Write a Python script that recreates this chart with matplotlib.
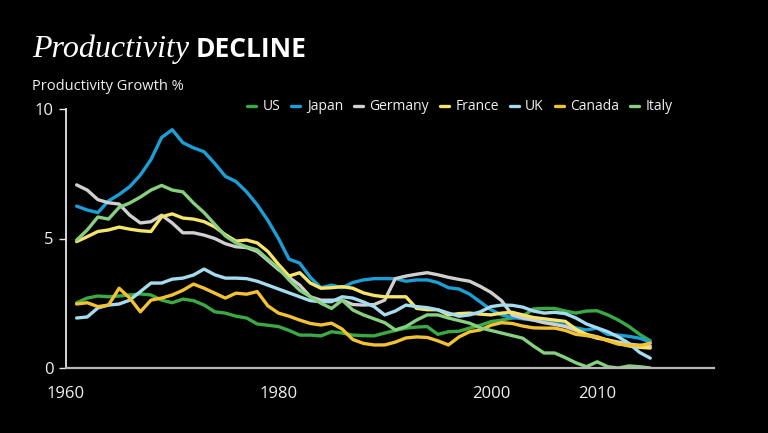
import matplotlib
matplotlib.use("Agg")
import matplotlib.pyplot as plt

years = list(range(1961, 2016))

us = [2.52, 2.7, 2.78, 2.75, 2.78, 2.82, 2.86, 2.82, 2.62, 2.52, 2.66, 2.6, 2.43, 2.17, 2.12, 2.0, 1.93, 1.7, 1.65, 1.6,
      1.45, 1.27, 1.27, 1.24, 1.4, 1.35, 1.27, 1.25, 1.24, 1.35, 1.45, 1.54, 1.58, 1.6, 1.3, 1.4, 1.42, 1.54, 1.65, 1.79,
      1.85, 1.93, 2.0, 2.28, 2.3, 2.3, 2.2, 2.12, 2.2, 2.21, 2.05, 1.85, 1.6, 1.3, 1.05]
japan = [6.25, 6.1, 6.0, 6.45, 6.7, 7.0, 7.45, 8.05, 8.9, 9.2, 8.7, 8.5, 8.35, 7.9, 7.4, 7.2, 6.8, 6.3, 5.7, 5.0,
         4.2, 4.05, 3.5, 3.1, 3.2, 3.1, 3.3, 3.4, 3.45, 3.45, 3.45, 3.35, 3.4, 3.4, 3.3, 3.1, 3.05, 2.85, 2.55, 2.25,
         2.05, 1.95, 1.9, 1.85, 1.8, 1.73, 1.65, 1.55, 1.47, 1.54, 1.3, 1.27, 1.22, 1.15, 1.0]
germany = [7.07, 6.87, 6.5, 6.38, 6.33, 5.9, 5.6, 5.65, 5.9, 5.6, 5.22, 5.22, 5.13, 5.0, 4.8, 4.68, 4.65, 4.5, 4.15, 3.8,
           3.5, 3.2, 2.75, 2.62, 2.62, 2.62, 2.45, 2.43, 2.45, 2.62, 3.45, 3.55, 3.62, 3.68, 3.6, 3.5, 3.42, 3.35, 3.15, 2.92,
           2.6, 2.05, 1.93, 1.85, 1.75, 1.68, 1.6, 1.45, 1.27, 1.15, 1.08, 1.0, 0.92, 0.88, 0.85]
france = [4.88, 5.07, 5.27, 5.33, 5.44, 5.36, 5.3, 5.27, 5.84, 5.95, 5.79, 5.75, 5.65, 5.45, 5.15, 4.9, 4.94, 4.83, 4.5, 4.0,
          3.55, 3.68, 3.28, 3.08, 3.1, 3.14, 3.08, 2.9, 2.8, 2.75, 2.75, 2.75, 2.3, 2.25, 2.25, 2.05, 2.1, 2.12, 2.08, 2.05,
          2.12, 2.15, 2.05, 1.95, 1.9, 1.85, 1.8, 1.5, 1.3, 1.2, 1.08, 0.95, 0.85, 0.8, 0.77]
uk = [1.93, 1.97, 2.32, 2.43, 2.47, 2.62, 2.95, 3.28, 3.28, 3.43, 3.47, 3.59, 3.82, 3.6, 3.47, 3.47, 3.45, 3.35, 3.2, 3.05,
      2.9, 2.75, 2.6, 2.56, 2.56, 2.75, 2.7, 2.55, 2.37, 2.05, 2.2, 2.43, 2.37, 2.33, 2.25, 2.12, 2.0, 2.05, 2.17, 2.37,
      2.43, 2.42, 2.35, 2.2, 2.12, 2.15, 2.1, 1.93, 1.7, 1.55, 1.4, 1.2, 0.95, 0.6, 0.38]
canada = [2.47, 2.52, 2.37, 2.43, 3.08, 2.7, 2.17, 2.62, 2.7, 2.82, 3.0, 3.24, 3.08, 2.89, 2.7, 2.89, 2.85, 2.95, 2.4, 2.12,
          2.0, 1.85, 1.72, 1.66, 1.73, 1.5, 1.1, 0.95, 0.89, 0.89, 1.0, 1.16, 1.2, 1.18, 1.05, 0.89, 1.2, 1.4, 1.47, 1.65,
          1.75, 1.72, 1.62, 1.55, 1.54, 1.54, 1.45, 1.3, 1.25, 1.2, 1.05, 0.92, 0.88, 0.86, 0.96]
italy = [4.94, 5.33, 5.83, 5.75, 6.2, 6.37, 6.6, 6.87, 7.05, 6.87, 6.8, 6.37, 6.0, 5.55, 5.1, 4.83, 4.68, 4.56, 4.2, 3.85,
         3.4, 3.0, 2.75, 2.5, 2.3, 2.62, 2.24, 2.05, 1.9, 1.75, 1.47, 1.6, 1.85, 2.05, 2.05, 1.93, 1.83, 1.73, 1.55, 1.45,
         1.35, 1.25, 1.15, 0.85, 0.58, 0.58, 0.4, 0.2, 0.05, 0.24, 0.05, 0.0, 0.08, 0.05, 0.0]

series = [("US", us, "#3aaa45"), ("Japan", japan, "#1a9fd6"), ("Germany", germany, "#d0d0d0"),
          ("France", france, "#f6e56a"), ("UK", uk, "#a6dcef"), ("Canada", canada, "#f3c232"),
          ("Italy", italy, "#86d080")]

xticks = [1960, 1980, 2000, 2010]
yticks = [0, 5, 10]

plt.rcParams['font.family'] = ['Open Sans', 'DejaVu Sans']

fig = plt.figure(figsize=(7.68, 4.33), dpi=100, facecolor="black")
ax = fig.add_axes([66/768, 1-368/433, (714-66)/768, (368-109)/433], facecolor="black")

for name, vals, col in series:
    ax.plot(years, vals, color=col, lw=2.4, label=name, solid_joinstyle="round", solid_capstyle="round")

ax.set_xlim(1960, 2021)
ax.set_ylim(0, 10)
ax.set_xticks(xticks)
ax.set_yticks(yticks)
for s in ["top", "right"]:
    ax.spines[s].set_visible(False)
ax.spines["left"].set_color("#e8e8e8")
ax.spines["left"].set_linewidth(1.3)
ax.spines["bottom"].set_color("#b8b8b8")
ax.spines["bottom"].set_linewidth(1.6)
ax.tick_params(axis="x", length=0, pad=13, labelsize=12, labelcolor="#f0f0f0")
ax.tick_params(axis="y", length=5, width=1, color="#e8e8e8", pad=4, labelsize=12, labelcolor="#f0f0f0")

leg = ax.legend(loc="center", bbox_to_anchor=(460/768, 1-107/433), bbox_transform=fig.transFigure,
                ncol=7, frameon=False, handlelength=0.65, handletextpad=0.45, columnspacing=0.8,
                fontsize=10, labelcolor="#f0f0f0")

t1 = fig.text(32/768, 1-57/433, "Productivity", family="Liberation Serif", style="italic",
              fontsize=23, color="white", va="baseline", ha="left")
fig.canvas.draw()
bb = t1.get_window_extent(renderer=fig.canvas.get_renderer())
fig.text((bb.x1 + 7)/768, 1-57/433, "DECLINE", family="Open Sans", weight="bold",
         fontsize=19, color="white", va="baseline", ha="left")

fig.text(32/768, 1-86/433, "Productivity Growth %", fontsize=10.5, color="#f0f0f0", va="center", ha="left")

fig.savefig("out.png", dpi=100, facecolor="black")
